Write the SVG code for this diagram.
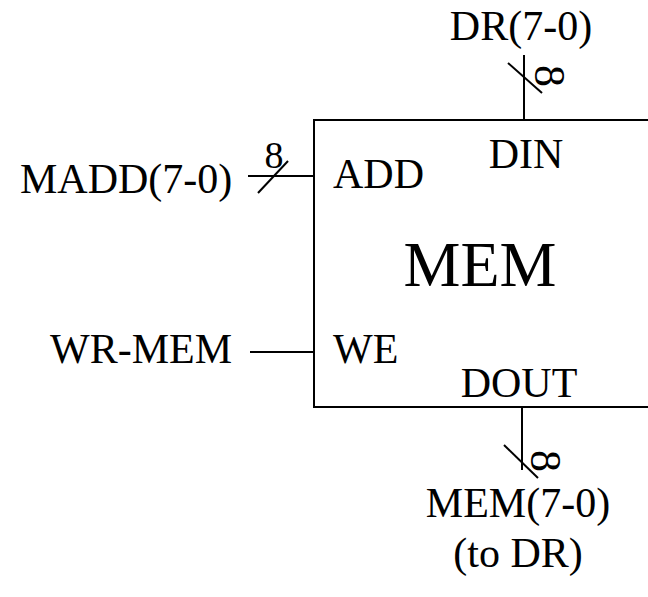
<svg xmlns="http://www.w3.org/2000/svg" width="648" height="597" viewBox="0 0 648 597">
  <style>
    .wire { stroke: #000; stroke-width: 2; fill: none; }
    .lbl { font-family: "Liberation Serif", "Times New Roman", serif; font-size: 42px; fill: #000; }
    .big { font-family: "Liberation Serif", "Times New Roman", serif; font-size: 64px; fill: #000; }
    .width { font-family: "Liberation Serif", "Times New Roman", serif; font-size: 38px; fill: #000; }
    .width-r { font-family: "Liberation Serif", "Times New Roman", serif; font-size: 44px; fill: #000; }
  </style>
  <rect width="648" height="597" fill="#fff"/>

  <!-- memory block (extends past the right edge) -->
  <g id="mem">
    <rect class="wire" x="314" y="120" width="400" height="287"/>
    <text class="big" x="480" y="286" text-anchor="middle">MEM</text>
    <text class="lbl" x="333" y="188">ADD</text>
    <text class="lbl" x="526" y="168" text-anchor="middle">DIN</text>
    <text class="lbl" x="333" y="363">WE</text>
    <text class="lbl" x="519" y="397" text-anchor="middle">DOUT</text>
  </g>

  <g id="dr-in">
    <text class="lbl" x="521" y="40" text-anchor="middle">DR(7-0)</text>
  </g>

  <g id="madd-in">
    <text class="lbl" x="20" y="193">MADD(7-0)</text>
  </g>

  <g id="wr-mem-in">
    <text class="lbl" x="50" y="363">WR-MEM</text>
  </g>

  <g id="mem-out">
    <text class="lbl" x="518" y="517" text-anchor="middle">MEM(7-0)</text>
    <text class="lbl" x="518" y="567" text-anchor="middle">(to DR)</text>
  </g>

  <g id="connectors">
    <!-- DR(7-0) -> DIN, 8-bit bus -->
    <line class="wire" x1="524" y1="55" x2="524" y2="120"/>
    <line class="wire" x1="508" y1="63" x2="542" y2="93"/>
    <text class="width-r" transform="translate(549 76) rotate(90)" text-anchor="middle" dominant-baseline="central">8</text>

    <!-- MADD(7-0) -> ADD, 8-bit bus -->
    <line class="wire" x1="248" y1="176" x2="314" y2="176"/>
    <line class="wire" x1="258" y1="193" x2="288" y2="161"/>
    <text class="width" x="274" y="168" text-anchor="middle">8</text>

    <!-- WR-MEM -> WE -->
    <line class="wire" x1="250" y1="352" x2="314" y2="352"/>

    <!-- DOUT -> MEM(7-0), 8-bit bus -->
    <line class="wire" x1="522" y1="407" x2="522" y2="470"/>
    <line class="wire" x1="504" y1="445" x2="538" y2="478"/>
    <text class="width-r" transform="translate(545 461) rotate(90)" text-anchor="middle" dominant-baseline="central">8</text>
  </g>
</svg>
